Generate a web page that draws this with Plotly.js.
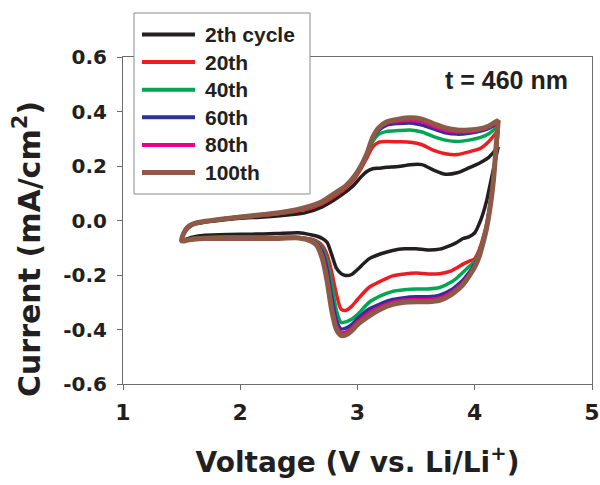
<!DOCTYPE html>
<html>
<head>
<meta charset="utf-8">
<script src="https://cdn.plot.ly/plotly-3.0.1.min.js"></script>
<style>html,body{margin:0;padding:0;background:#fff;}#chart{width:600px;height:485px;}</style>
</head>
<body>
<div id="chart"></div>
<script>
// Cycle labels and colours
const cycleNames = ["2th cycle", "20th", "40th", "60th", "80th", "100th"];
const cycleColors = ["#231f20", "#ed1c24", "#00a651", "#2e3192", "#ec008c", "#8c5a46"];

// Anodic sweep (1.5 V -> 4.2 V)
const voltAnodic = [1.50,1.52,1.55,1.60,1.70,1.85,2.00,2.20,2.40,2.55,2.70,2.80,2.90,2.97,3.03,3.08,3.13,3.18,3.25,3.35,3.45,3.55,3.65,3.75,3.85,3.95,4.05,4.12,4.17,4.20];
const anodic2   = [-0.075,-0.048,-0.030,-0.015,-0.006,0.002,0.008,0.013,0.020,0.028,0.050,0.075,0.105,0.130,0.160,0.180,0.190,0.192,0.195,0.198,0.205,0.205,0.185,0.170,0.175,0.193,0.213,0.232,0.255,0.270];
const anodic20  = [-0.075,-0.046,-0.027,-0.013,-0.004,0.004,0.011,0.019,0.029,0.040,0.062,0.088,0.120,0.150,0.190,0.230,0.270,0.287,0.290,0.289,0.287,0.278,0.257,0.245,0.242,0.252,0.265,0.290,0.315,0.330];
const anodic40  = [-0.075,-0.045,-0.026,-0.012,-0.003,0.005,0.012,0.021,0.031,0.045,0.066,0.095,0.125,0.158,0.198,0.240,0.290,0.316,0.327,0.330,0.332,0.325,0.308,0.295,0.290,0.295,0.305,0.318,0.335,0.345];
const anodic60  = [-0.075,-0.045,-0.025,-0.012,-0.003,0.006,0.013,0.022,0.032,0.046,0.068,0.097,0.126,0.159,0.199,0.243,0.300,0.330,0.350,0.356,0.358,0.350,0.336,0.322,0.317,0.320,0.328,0.338,0.350,0.355];
const anodic80  = [-0.075,-0.045,-0.025,-0.012,-0.003,0.006,0.013,0.022,0.032,0.047,0.069,0.098,0.127,0.160,0.200,0.245,0.303,0.336,0.357,0.364,0.367,0.362,0.345,0.330,0.325,0.326,0.333,0.343,0.355,0.360];
const anodic100 = [-0.075,-0.045,-0.025,-0.012,-0.003,0.006,0.013,0.022,0.033,0.047,0.070,0.098,0.127,0.160,0.200,0.245,0.305,0.340,0.362,0.372,0.377,0.372,0.355,0.340,0.332,0.332,0.337,0.347,0.360,0.367];

// Cathodic sweep (4.2 V -> 1.5 V)
const voltCathodic = [4.20,4.18,4.16,4.13,4.10,4.07,4.04,4.00,3.95,3.90,3.85,3.80,3.70,3.60,3.50,3.40,3.30,3.20,3.10,3.00,2.95,2.90,2.86,2.82,2.78,2.74,2.70,2.65,2.60,2.50,2.30,2.10,1.90,1.70,1.60,1.55,1.50];
const cathodic2   = [0.270,0.230,0.190,0.130,0.070,0.025,-0.010,-0.045,-0.060,-0.066,-0.080,-0.090,-0.105,-0.108,-0.104,-0.104,-0.110,-0.122,-0.140,-0.180,-0.198,-0.202,-0.195,-0.175,-0.125,-0.080,-0.066,-0.057,-0.052,-0.045,-0.048,-0.050,-0.051,-0.054,-0.060,-0.067,-0.075];
const cathodic20  = [0.330,0.240,0.150,0.060,-0.015,-0.065,-0.105,-0.140,-0.150,-0.160,-0.173,-0.185,-0.195,-0.196,-0.193,-0.196,-0.203,-0.222,-0.245,-0.290,-0.315,-0.330,-0.326,-0.270,-0.190,-0.125,-0.092,-0.075,-0.068,-0.062,-0.062,-0.060,-0.060,-0.062,-0.065,-0.070,-0.075];
const cathodic40  = [0.345,0.250,0.150,0.055,-0.020,-0.072,-0.115,-0.150,-0.170,-0.190,-0.210,-0.226,-0.246,-0.251,-0.251,-0.254,-0.260,-0.276,-0.300,-0.345,-0.362,-0.372,-0.374,-0.330,-0.235,-0.150,-0.105,-0.080,-0.070,-0.063,-0.063,-0.062,-0.062,-0.063,-0.066,-0.071,-0.075];
const cathodic60  = [0.355,0.255,0.152,0.052,-0.025,-0.078,-0.122,-0.160,-0.192,-0.218,-0.238,-0.254,-0.274,-0.280,-0.280,-0.283,-0.290,-0.305,-0.325,-0.360,-0.382,-0.395,-0.398,-0.365,-0.280,-0.175,-0.115,-0.085,-0.073,-0.064,-0.064,-0.063,-0.063,-0.064,-0.067,-0.071,-0.075];
const cathodic80  = [0.360,0.258,0.152,0.050,-0.028,-0.080,-0.126,-0.165,-0.200,-0.228,-0.248,-0.263,-0.285,-0.290,-0.290,-0.292,-0.300,-0.316,-0.338,-0.372,-0.395,-0.410,-0.412,-0.385,-0.310,-0.200,-0.128,-0.088,-0.074,-0.064,-0.065,-0.064,-0.064,-0.065,-0.068,-0.072,-0.075];
const cathodic100 = [0.367,0.260,0.150,0.045,-0.030,-0.083,-0.130,-0.170,-0.205,-0.235,-0.255,-0.272,-0.293,-0.298,-0.298,-0.300,-0.308,-0.325,-0.350,-0.382,-0.405,-0.420,-0.422,-0.400,-0.330,-0.220,-0.140,-0.090,-0.075,-0.064,-0.066,-0.066,-0.066,-0.066,-0.069,-0.072,-0.075];

// Axis ticks
const xTicks = [1, 2, 3, 4, 5];
const yTicks = [-0.6, -0.4, -0.2, 0.0, 0.2, 0.4, 0.6];
const yTickLabels = ["-0.6", "-0.4", "-0.2", "0.0", "0.2", "0.4", "0.6"];

const anodicSets = [anodic2, anodic20, anodic40, anodic60, anodic80, anodic100];
const cathodicSets = [cathodic2, cathodic20, cathodic40, cathodic60, cathodic80, cathodic100];
const widths = [3.5, 3.5, 3.5, 3.5, 3.5, 5];

const traces = cycleNames.map((name, i) => ({
  type: "scatter",
  mode: "lines",
  name: name,
  x: voltAnodic.concat(voltCathodic),
  y: anodicSets[i].concat(cathodicSets[i]),
  line: {color: cycleColors[i], width: widths[i], shape: "spline", smoothing: 0.7},
  showlegend: false,
  hoverinfo: "skip"
}));

// Page geometry (layout only)
const W = 600, H = 485;
const M = {l: 123, r: 8, t: 57, b: 101};
const plotW = W - M.l - M.r, plotH = H - M.t - M.b;
const px2x = p => (p - M.l) / plotW;
const px2y = p => (H - M.b - p) / plotH;

const axisColor = "#6d6d6d";
const textColor = "#231f20";
const legendFont = {family: "Liberation Sans, Arial, sans-serif", size: 21, weight: 700, color: textColor};

// Custom legend box (long line samples as in the reference)
const legBox = {x0: 134, x1: 310, y0: 13, y1: 194};
const legRow0 = 34.5, legRowGap = 27.6;
const legLineX0 = 142, legLineX1 = 195, legTextX = 203;

const shapes = [{
  type: "rect", xref: "paper", yref: "paper", layer: "above",
  x0: px2x(legBox.x0), x1: px2x(legBox.x1), y0: px2y(legBox.y1), y1: px2y(legBox.y0),
  fillcolor: "#ffffff", line: {color: "#8a8a8a", width: 1}
}];
const annotations = [];
cycleNames.forEach((name, i) => {
  const yy = px2y(legRow0 + i * legRowGap);
  shapes.push({
    type: "line", xref: "paper", yref: "paper", layer: "above",
    x0: px2x(legLineX0), x1: px2x(legLineX1), y0: yy, y1: yy,
    line: {color: cycleColors[i], width: i === 5 ? 5 : 4}
  });
  annotations.push({
    text: name, xref: "paper", yref: "paper", x: px2x(legTextX), y: yy,
    xanchor: "left", yanchor: "middle", showarrow: false, font: legendFont
  });
});

annotations.push(
  {text: "t = 460 nm", xref: "paper", yref: "paper", x: px2x(506.5), y: px2y(80),
   xanchor: "center", yanchor: "middle", showarrow: false,
   font: {family: "Liberation Sans, Arial, sans-serif", size: 25, weight: 700, color: textColor}},
  {text: "Current (mA/cm<sup>2</sup>)", xref: "paper", yref: "paper", x: px2x(27), y: px2y(249),
   xanchor: "center", yanchor: "middle", textangle: -90, showarrow: false,
   font: {family: "DejaVu Sans, sans-serif", size: 30, weight: 700, color: textColor}}
);

const layout = {
  width: W, height: H,
  margin: M,
  paper_bgcolor: "#ffffff",
  plot_bgcolor: "#ffffff",
  showlegend: false,
  xaxis: {
    range: [1, 5], tickvals: xTicks, ticktext: xTicks.map(String),
    ticks: "outside", ticklen: 5, tickwidth: 1, tickcolor: axisColor,
    showline: true, linecolor: axisColor, linewidth: 1, mirror: true,
    showgrid: false, zeroline: false, ticklabelstandoff: 4, ticklabeloverflow: "allow",
    tickfont: {family: "DejaVu Sans, sans-serif", size: 22, weight: 700, color: textColor},
    title: {text: "Voltage (V vs. Li/Li<sup>+</sup>)", standoff: 27,
            font: {family: "DejaVu Sans, sans-serif", size: 28, weight: 700, color: textColor}}
  },
  yaxis: {
    range: [-0.6, 0.6], tickvals: yTicks, ticktext: yTickLabels,
    ticks: "outside", ticklen: 5, tickwidth: 1, tickcolor: axisColor,
    showline: true, linecolor: axisColor, linewidth: 1, mirror: true,
    showgrid: false, zeroline: false, ticklabelstandoff: 6, ticklabeloverflow: "allow",
    tickfont: {family: "DejaVu Sans, sans-serif", size: 20, weight: 700, color: textColor}
  },
  shapes: shapes,
  annotations: annotations
};

Plotly.newPlot("chart", traces, layout, {staticPlot: true, displayModeBar: false});
</script>
</body>
</html>
